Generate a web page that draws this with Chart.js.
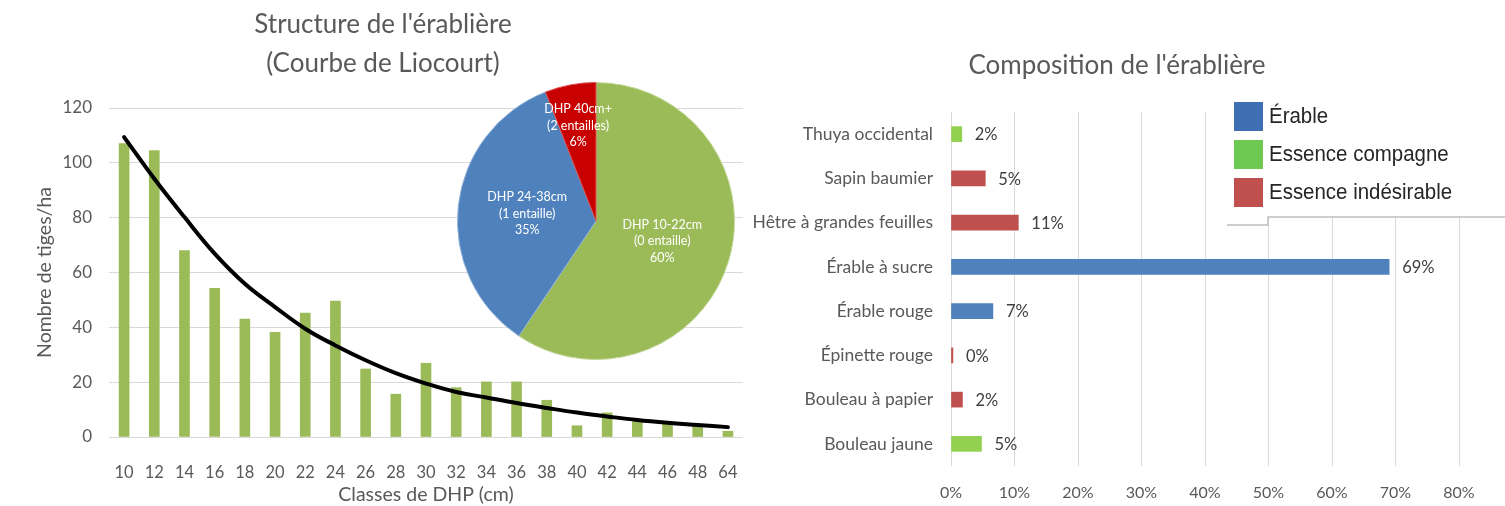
<!DOCTYPE html>
<html lang="fr">
<head>
<meta charset="utf-8">
<script src="https://cdn.jsdelivr.net/npm/chart.js@4.4.1/dist/chart.umd.min.js"></script>
<style>
  body { margin: 0; background: #fff; }
  #wrap { position: relative; width: 1505px; height: 506px; overflow: hidden; }
  canvas { position: absolute; }
  #liocourt { left: 0; top: 0; }
  #composition { left: 745px; top: 0; }
  #tarte { left: 457px; top: 82px; }
</style>
</head>
<body>
<div id="wrap">
  <canvas id="liocourt" width="760" height="506"></canvas>
  <canvas id="composition" width="760" height="506"></canvas>
  <canvas id="tarte" width="278" height="278"></canvas>
</div>
<script>
// Courbe de Liocourt
const classesDHP = ['10', '12', '14', '16', '18', '20', '22', '24', '26', '28', '30',
                    '32', '34', '36', '38', '40', '42', '44', '46', '48', '64'];
const tigesHa = [107, 104.5, 68, 54.2, 43, 38.2, 45.2, 49.6, 24.8, 15.6, 26.9,
                 18, 20.1, 20.1, 13.4, 4.1, 8.8, 6, 5, 4, 2.1];
const courbe = [109.4, 94.2, 80.2, 66.9, 55.9, 47.4, 39.5, 33.4, 28, 23.3, 19.5,
                16.4, 14.4, 12.4, 10.6, 8.9, 7.5, 6.2, 5.2, 4.4, 3.6];

// Tarte des classes
const classesTarte = ['DHP 10-22cm', 'DHP 24-38cm', 'DHP 40cm+'];
const entailles = ['(0 entaille)', '(1 entaille)', '(2 entailles)'];
const partsTarte = [60, 35, 6];

// Composition
const especes = ['Thuya occidental', 'Sapin baumier', 'Hêtre à grandes feuilles', 'Érable à sucre',
                 'Érable rouge', 'Épinette rouge', 'Bouleau à papier', 'Bouleau jaune'];
const composition = [1.7, 5.4, 10.6, 69, 6.6, 0.3, 1.8, 4.8];
const groupes = ['compagne', 'indesirable', 'indesirable', 'erable',
                 'erable', 'indesirable', 'indesirable', 'compagne'];
const legendeNoms = ['Érable', 'Essence compagne', 'Essence indésirable'];

Chart.defaults.font.family = 'Lato';
Chart.defaults.color = '#595959';

const couleursGroupes = { erable: '#4F81BD', compagne: '#92D050', indesirable: '#C0504D' };
const couleursLegende = ['#3E6FB3', '#6DC951', '#C0504D'];

new Chart(document.getElementById('liocourt'), {
    type: 'bar',
    data: {
        labels: classesDHP,
        datasets: [{
            type: 'line',
            data: courbe,
            borderColor: '#000',
            borderWidth: 4,
            pointRadius: 0,
            tension: 0.4,
            borderCapStyle: 'round',
            order: 0
        }, {
            data: tigesHa,
            backgroundColor: '#9BBB59',
            barThickness: 10,
            order: 1
        }]
    },
    options: {
        responsive: false,
        animation: false,
        layout: { padding: { left: 23, right: 17, top: 0, bottom: 0 } },
        plugins: {
            legend: { display: false },
            tooltip: { enabled: false },
            title: {
                display: true,
                text: ["Structure de l'érablière", '(Courbe de Liocourt)'],
                font: { size: 26, weight: 'normal', lineHeight: 1.5 },
                color: '#595959',
                padding: { top: 5, bottom: 25 }
            }
        },
        scales: {
            x: {
                grid: { display: false },
                border: { display: false },
                ticks: { font: { size: 16.5 }, padding: 18, maxRotation: 0, autoSkip: false },
                title: { display: true, text: 'Classes de DHP (cm)', font: { size: 19.5 }, padding: { top: 0, bottom: 0 } },
                afterFit: s => { s.height = 69; }
            },
            y: {
                min: 0, max: 120,
                ticks: { stepSize: 20, font: { size: 17 }, padding: 17 },
                grid: { color: '#d9d9d9', drawTicks: false },
                border: { display: false },
                title: { display: true, text: 'Nombre de tiges/ha', font: { size: 19.5 }, padding: { top: 10, bottom: 0 } },
                afterFit: s => { s.width = 86; }
            }
        }
    }
});

const etiquettesTarte = {
    id: 'etiquettesTarte',
    afterDatasetsDraw(chart) {
        const ctx = chart.ctx;
        const facteurs = [0.5, 0.5, 0.7];
        ctx.save();
        ctx.font = '12.5px Lato';
        ctx.fillStyle = '#fff';
        ctx.textAlign = 'center';
        ctx.textBaseline = 'middle';
        chart.getDatasetMeta(0).data.forEach((arc, i) => {
            const a = (arc.startAngle + arc.endAngle) / 2;
            const r = arc.outerRadius * facteurs[i];
            const x = arc.x + Math.cos(a) * r;
            const y = arc.y + Math.sin(a) * r;
            const lignes = [classesTarte[i], entailles[i], partsTarte[i] + '%'];
            lignes.forEach((l, j) => ctx.fillText(l, x, y + (j - 1) * 16.5));
        });
        ctx.restore();
    }
};

new Chart(document.getElementById('tarte'), {
    type: 'pie',
    data: {
        labels: classesTarte,
        datasets: [{
            data: partsTarte,
            backgroundColor: ['#9BBB59', '#4F81BD', '#C80000'],
            borderColor: ['#c4d89a', '#8fb0d8', '#d85050'],
            borderWidth: 1
        }]
    },
    options: {
        responsive: false,
        animation: false,
        plugins: { legend: { display: false }, tooltip: { enabled: false } }
    },
    plugins: [etiquettesTarte]
});

const pourcentages = {
    id: 'pourcentages',
    afterDatasetsDraw(chart) {
        const ctx = chart.ctx;
        ctx.save();
        ctx.font = '16.5px Lato';
        ctx.fillStyle = '#404040';
        ctx.textAlign = 'left';
        ctx.textBaseline = 'middle';
        chart.getDatasetMeta(0).data.forEach((bar, i) => {
            ctx.fillText(Math.round(composition[i]) + '%', bar.x + 13, bar.y + 1);
        });
        ctx.restore();
    }
};

// titre centré sur 1117 px de la page, indépendamment des étiquettes
const titreComposition = {
    id: 'titreComposition',
    afterDraw(chart) {
        const ctx = chart.ctx;
        ctx.save();
        ctx.font = '26px Lato';
        ctx.fillStyle = '#595959';
        ctx.textAlign = 'center';
        ctx.textBaseline = 'middle';
        ctx.fillText("Composition de l'érablière", 1117 - 745, 66);
        ctx.restore();
    }
};

const legendeCollee = {
    id: 'legendeCollee',
    afterDraw(chart) {
        const ctx = chart.ctx;
        const ox = -745;
        ctx.save();
        ctx.fillStyle = '#fff';
        ctx.fillRect(1228 + ox, 88, 300, 129);
        ctx.strokeStyle = '#bfbfbf';
        ctx.lineWidth = 1.5;
        ctx.beginPath();
        ctx.moveTo(1227 + ox, 225);
        ctx.lineTo(1268 + ox, 225);
        ctx.lineTo(1268 + ox, 217);
        ctx.lineTo(1505 + ox, 217);
        ctx.stroke();
        ctx.textAlign = 'left';
        ctx.textBaseline = 'middle';
        legendeNoms.forEach((nom, i) => {
            const y = 102 + i * 38;
            ctx.fillStyle = couleursLegende[i];
            ctx.fillRect(1234 + ox, y, 29, 29);
            ctx.save();
            ctx.translate(1269 + ox, y + 15);
            ctx.scale(0.93, 1);
            ctx.font = '22px "Liberation Sans"';
            ctx.fillStyle = '#262626';
            ctx.fillText(nom, 0, 0);
            ctx.restore();
        });
        ctx.restore();
    }
};

new Chart(document.getElementById('composition'), {
    type: 'bar',
    data: {
        labels: especes,
        datasets: [{
            data: composition,
            backgroundColor: groupes.map(g => couleursGroupes[g]),
            barThickness: 15
        }]
    },
    options: {
        indexAxis: 'y',
        responsive: false,
        animation: false,
        layout: { padding: { left: 0, right: 46, top: 112, bottom: 0 } },
        plugins: {
            legend: { display: false },
            tooltip: { enabled: false }
        },
        scales: {
            x: {
                min: 0, max: 80,
                ticks: { stepSize: 10, font: { size: 16 }, padding: 17, callback: v => v + '%' },
                grid: { color: '#d9d9d9', drawTicks: false },
                border: { display: false },
                afterFit: s => { s.height = 40; }
            },
            y: {
                grid: { display: false },
                border: { display: false },
                ticks: { font: { size: 17.5 }, padding: 10, autoSkip: false },
                afterFit: s => { s.width = 206; }
            }
        }
    },
    plugins: [pourcentages, titreComposition, legendeCollee]
});
</script>
</body>
</html>
